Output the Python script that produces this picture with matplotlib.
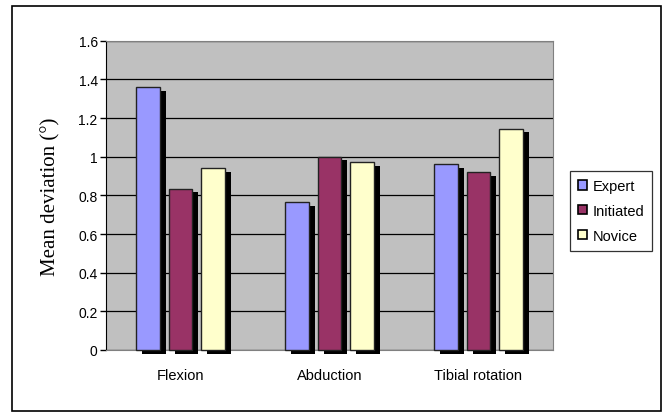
import matplotlib.pyplot as plt
import matplotlib.patheffects as pe
import numpy as np
from matplotlib.patches import Rectangle

categories = ["Flexion", "Abduction", "Tibial rotation"]
series = ["Expert", "Initiated", "Novice"]
expert = [1.36, 0.765, 0.96]
initiated = [0.835, 1.0, 0.92]
novice = [0.94, 0.97, 1.145]
colors = ["#9999FF", "#993366", "#FFFFCC"]

fig = plt.figure(figsize=(6.69, 4.14), dpi=100)
# outer chart frame
fig.patches.append(Rectangle((12/669, 2/414), 649/669, 405/414, transform=fig.transFigure,
                             fill=False, edgecolor="black", linewidth=1.2))

ax = fig.add_axes([106/669, 1-351/414, 447/669, (351-41.7)/414])
ax.set_facecolor("#C0C0C0")

x = np.arange(len(categories))
w = 0.16
shadow = [pe.SimplePatchShadow(offset=(4.3, -2.6), shadow_rgbFace="black", alpha=1), pe.Normal()]
for i, (vals, name) in enumerate(zip([expert, initiated, novice], series)):
    bars = ax.bar(x + (i - 1) * 0.22, vals, w, color=colors[i], edgecolor="#222222",
                  linewidth=1, label=name, zorder=3)
    for b in bars:
        b.set_path_effects(shadow)
        b.set_clip_on(False)

ax.set_xlim(-0.5, 2.5)
ax.set_ylim(0, 1.6)
ax.set_yticks(np.arange(0, 1.61, 0.2))
ax.set_yticklabels(["0", "0.2", "0.4", "0.6", "0.8", "1", "1.2", "1.4", "1.6"],
                   fontsize=10, family="Liberation Sans")
ax.yaxis.grid(True, color="black", linewidth=0.9, zorder=1)
ax.set_axisbelow(True)
ax.set_xticks(x)
ax.set_xticklabels(categories, fontsize=10.5, family="Liberation Sans")
ax.tick_params(axis="x", length=0, pad=13)
ax.tick_params(axis="y", length=4, width=1, direction="out", pad=2)
for s in ["top", "right"]:
    ax.spines[s].set_color("#808080")
ax.spines["left"].set_color("black")
ax.spines["bottom"].set_color("#808080")

ax.set_ylabel("Mean deviation (°)", family="Liberation Serif", fontsize=15, labelpad=13)

leg = ax.legend(loc="upper left", bbox_to_anchor=(570/669, 1-172/414), bbox_transform=fig.transFigure,
                prop={"family": "Liberation Sans", "size": 10.5}, frameon=True, fancybox=False,
                handlelength=0.6, handleheight=0.6, handletextpad=0.4, labelspacing=0.75,
                borderpad=0.55, borderaxespad=0)
leg.get_frame().set_edgecolor("black")
leg.get_frame().set_linewidth(0.9)
for h in leg.legend_handles:
    h.set_edgecolor("black")
    h.set_linewidth(1.2)
    h.set_path_effects([])

fig.savefig("out.png", dpi=100)
